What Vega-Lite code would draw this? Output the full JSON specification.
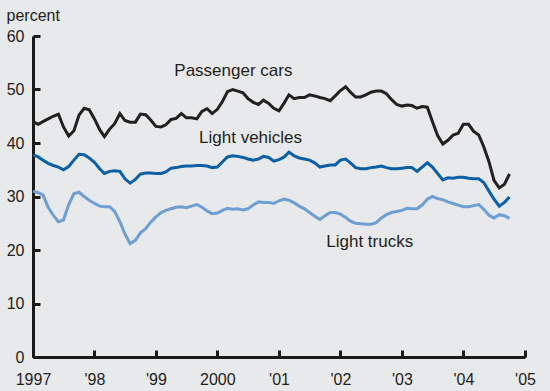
{
  "$schema": "https://vega.github.io/schema/vega-lite/v6.json",
  "width": 492,
  "height": 321,
  "autosize": {"type": "none"},
  "padding": {"left": 33, "top": 36, "right": 25, "bottom": 34},
  "background": "#e8e9eb",
  "config": {
    "view": {"stroke": null},
    "font": "Liberation Sans",
    "axis": {
      "grid": false,
      "domainColor": "#1a1a1a",
      "domainWidth": 3,
      "tickColor": "#1a1a1a",
      "tickWidth": 3,
      "tickSize": -7,
      "labelFont": "Liberation Sans",
      "labelFontSize": 16,
      "labelColor": "#231f20",
      "titleFont": "Liberation Sans",
      "titleColor": "#231f20"
    }
  },
  "data": {
    "values": [
      {"date": "1997-01-01", "c": 44.0, "v": 37.8, "t": 31.0},
      {"date": "1997-02-01", "c": 43.5, "v": 37.4, "t": 30.7},
      {"date": "1997-03-01", "c": 44.0, "v": 36.8, "t": 30.3},
      {"date": "1997-04-01", "c": 44.5, "v": 36.2, "t": 28.0},
      {"date": "1997-05-01", "c": 45.0, "v": 35.8, "t": 26.5},
      {"date": "1997-06-01", "c": 45.4, "v": 35.5, "t": 25.3},
      {"date": "1997-07-01", "c": 43.0, "v": 35.0, "t": 25.6},
      {"date": "1997-08-01", "c": 41.3, "v": 35.6, "t": 28.5},
      {"date": "1997-09-01", "c": 42.3, "v": 36.8, "t": 30.5},
      {"date": "1997-10-01", "c": 45.2, "v": 37.9, "t": 30.8},
      {"date": "1997-11-01", "c": 46.5, "v": 37.8, "t": 30.0},
      {"date": "1997-12-01", "c": 46.2, "v": 37.2, "t": 29.3},
      {"date": "1998-01-01", "c": 44.5, "v": 36.4, "t": 28.7},
      {"date": "1998-02-01", "c": 42.5, "v": 35.2, "t": 28.2},
      {"date": "1998-03-01", "c": 41.2, "v": 34.3, "t": 28.1},
      {"date": "1998-04-01", "c": 42.6, "v": 34.7, "t": 28.1},
      {"date": "1998-05-01", "c": 43.6, "v": 34.8, "t": 27.2},
      {"date": "1998-06-01", "c": 45.5, "v": 34.7, "t": 25.3},
      {"date": "1998-07-01", "c": 44.2, "v": 33.3, "t": 23.0},
      {"date": "1998-08-01", "c": 43.9, "v": 32.5, "t": 21.2},
      {"date": "1998-09-01", "c": 43.9, "v": 33.2, "t": 21.8},
      {"date": "1998-10-01", "c": 45.4, "v": 34.2, "t": 23.2},
      {"date": "1998-11-01", "c": 45.3, "v": 34.4, "t": 24.0},
      {"date": "1998-12-01", "c": 44.3, "v": 34.4, "t": 25.2},
      {"date": "1999-01-01", "c": 43.1, "v": 34.3, "t": 26.2},
      {"date": "1999-02-01", "c": 43.0, "v": 34.3, "t": 27.0},
      {"date": "1999-03-01", "c": 43.4, "v": 34.6, "t": 27.4},
      {"date": "1999-04-01", "c": 44.4, "v": 35.3, "t": 27.7},
      {"date": "1999-05-01", "c": 44.6, "v": 35.4, "t": 28.0},
      {"date": "1999-06-01", "c": 45.5, "v": 35.6, "t": 28.1},
      {"date": "1999-07-01", "c": 44.7, "v": 35.7, "t": 27.9},
      {"date": "1999-08-01", "c": 44.7, "v": 35.7, "t": 28.2},
      {"date": "1999-09-01", "c": 44.5, "v": 35.8, "t": 28.5},
      {"date": "1999-10-01", "c": 45.9, "v": 35.8, "t": 28.0},
      {"date": "1999-11-01", "c": 46.4, "v": 35.7, "t": 27.3},
      {"date": "1999-12-01", "c": 45.5, "v": 35.4, "t": 26.8},
      {"date": "2000-01-01", "c": 46.3, "v": 35.5, "t": 26.9},
      {"date": "2000-02-01", "c": 47.8, "v": 36.5, "t": 27.4},
      {"date": "2000-03-01", "c": 49.6, "v": 37.4, "t": 27.8},
      {"date": "2000-04-01", "c": 50.0, "v": 37.6, "t": 27.6},
      {"date": "2000-05-01", "c": 49.7, "v": 37.5, "t": 27.7},
      {"date": "2000-06-01", "c": 49.4, "v": 37.3, "t": 27.5},
      {"date": "2000-07-01", "c": 48.3, "v": 37.0, "t": 27.7},
      {"date": "2000-08-01", "c": 47.6, "v": 36.8, "t": 28.4},
      {"date": "2000-09-01", "c": 47.2, "v": 37.0, "t": 29.0},
      {"date": "2000-10-01", "c": 48.0, "v": 37.5, "t": 28.9},
      {"date": "2000-11-01", "c": 47.4, "v": 37.3, "t": 28.9},
      {"date": "2000-12-01", "c": 46.5, "v": 36.6, "t": 28.7},
      {"date": "2001-01-01", "c": 46.0, "v": 36.9, "t": 29.2},
      {"date": "2001-02-01", "c": 47.5, "v": 37.4, "t": 29.5},
      {"date": "2001-03-01", "c": 49.0, "v": 38.3, "t": 29.3},
      {"date": "2001-04-01", "c": 48.3, "v": 37.6, "t": 28.8},
      {"date": "2001-05-01", "c": 48.5, "v": 37.2, "t": 28.2},
      {"date": "2001-06-01", "c": 48.5, "v": 37.0, "t": 27.7},
      {"date": "2001-07-01", "c": 49.0, "v": 36.8, "t": 27.0},
      {"date": "2001-08-01", "c": 48.8, "v": 36.3, "t": 26.3},
      {"date": "2001-09-01", "c": 48.5, "v": 35.5, "t": 25.7},
      {"date": "2001-10-01", "c": 48.3, "v": 35.7, "t": 26.4},
      {"date": "2001-11-01", "c": 47.9, "v": 35.9, "t": 27.0},
      {"date": "2001-12-01", "c": 48.8, "v": 35.9, "t": 27.0},
      {"date": "2002-01-01", "c": 49.8, "v": 36.8, "t": 26.7},
      {"date": "2002-02-01", "c": 50.5, "v": 37.0, "t": 26.1},
      {"date": "2002-03-01", "c": 49.5, "v": 36.3, "t": 25.4},
      {"date": "2002-04-01", "c": 48.6, "v": 35.4, "t": 25.0},
      {"date": "2002-05-01", "c": 48.6, "v": 35.2, "t": 24.9},
      {"date": "2002-06-01", "c": 49.0, "v": 35.2, "t": 24.8},
      {"date": "2002-07-01", "c": 49.5, "v": 35.4, "t": 24.8},
      {"date": "2002-08-01", "c": 49.7, "v": 35.5, "t": 25.1},
      {"date": "2002-09-01", "c": 49.7, "v": 35.7, "t": 26.0},
      {"date": "2002-10-01", "c": 49.2, "v": 35.4, "t": 26.6},
      {"date": "2002-11-01", "c": 48.1, "v": 35.2, "t": 27.0},
      {"date": "2002-12-01", "c": 47.2, "v": 35.2, "t": 27.2},
      {"date": "2003-01-01", "c": 46.9, "v": 35.3, "t": 27.4},
      {"date": "2003-02-01", "c": 47.1, "v": 35.4, "t": 27.8},
      {"date": "2003-03-01", "c": 47.0, "v": 35.4, "t": 27.7},
      {"date": "2003-04-01", "c": 46.5, "v": 34.7, "t": 27.7},
      {"date": "2003-05-01", "c": 46.8, "v": 35.5, "t": 28.4},
      {"date": "2003-06-01", "c": 46.7, "v": 36.3, "t": 29.5},
      {"date": "2003-07-01", "c": 44.0, "v": 35.5, "t": 30.0},
      {"date": "2003-08-01", "c": 41.4, "v": 34.3, "t": 29.6},
      {"date": "2003-09-01", "c": 39.8, "v": 33.1, "t": 29.4},
      {"date": "2003-10-01", "c": 40.5, "v": 33.5, "t": 29.0},
      {"date": "2003-11-01", "c": 41.5, "v": 33.4, "t": 28.7},
      {"date": "2003-12-01", "c": 41.8, "v": 33.6, "t": 28.4},
      {"date": "2004-01-01", "c": 43.5, "v": 33.6, "t": 28.1},
      {"date": "2004-02-01", "c": 43.5, "v": 33.4, "t": 28.1},
      {"date": "2004-03-01", "c": 42.2, "v": 33.3, "t": 28.3},
      {"date": "2004-04-01", "c": 41.5, "v": 33.3, "t": 28.5},
      {"date": "2004-05-01", "c": 39.3, "v": 32.6, "t": 27.6},
      {"date": "2004-06-01", "c": 36.5, "v": 31.0, "t": 26.5},
      {"date": "2004-07-01", "c": 33.0, "v": 29.5, "t": 26.0},
      {"date": "2004-08-01", "c": 31.6, "v": 28.2, "t": 26.6},
      {"date": "2004-09-01", "c": 32.3, "v": 28.9, "t": 26.4},
      {"date": "2004-10-01", "c": 34.2, "v": 29.9, "t": 25.9}
    ]
  },
  "encoding": {
    "x": {
      "field": "date",
      "type": "temporal",
      "scale": {
        "type": "utc",
        "domain": [
          {"year": 1997, "month": 1, "date": 1, "utc": true},
          {"year": 2005, "month": 1, "date": 1, "utc": true}
        ]
      },
      "axis": {
        "title": null,
        "values": [
          {"year": 1997, "month": 1, "date": 1, "utc": true},
          {"year": 1998, "month": 1, "date": 1, "utc": true},
          {"year": 1999, "month": 1, "date": 1, "utc": true},
          {"year": 2000, "month": 1, "date": 1, "utc": true},
          {"year": 2001, "month": 1, "date": 1, "utc": true},
          {"year": 2002, "month": 1, "date": 1, "utc": true},
          {"year": 2003, "month": 1, "date": 1, "utc": true},
          {"year": 2004, "month": 1, "date": 1, "utc": true},
          {"year": 2005, "month": 1, "date": 1, "utc": true}
        ],
        "labelExpr": "(utcyear(datum.value) == 1997 || utcyear(datum.value) == 2000) ? utcFormat(datum.value, '%Y') : \"'\" + utcFormat(datum.value, '%y')",
        "labelPadding": 21,
        "labelFlush": false,
        "labelOverlap": false
      }
    }
  },
  "layer": [
    {
      "transform": [{"fold": ["c", "v", "t"], "as": ["series", "value"]}],
      "mark": {"type": "line", "strokeWidth": 3},
      "encoding": {
        "y": {
          "field": "value",
          "type": "quantitative",
          "scale": {"domain": [0, 60], "nice": false},
          "axis": {
            "values": [0, 10, 20, 30, 40, 50, 60],
            "title": "percent",
            "titleAngle": 0,
            "titleAlign": "left",
            "titleBaseline": "middle",
            "titleX": -27,
            "titleY": -21,
            "titleFontSize": 16,
            "titleFontWeight": "normal",
            "labelPadding": 16
          }
        },
        "color": {
          "field": "series",
          "type": "nominal",
          "scale": {"domain": ["c", "v", "t"], "range": ["#231f20", "#0b5fa5", "#6d9fd3"]},
          "legend": null
        },
        "order": {"field": "date", "type": "temporal"}
      }
    },
    {
      "data": {
        "values": [
          {"date": "2000-04-05", "value": 53.5, "label": "Passenger cars"},
          {"date": "2000-07-16", "value": 40.9, "label": "Light vehicles"},
          {"date": "2002-06-24", "value": 21.5, "label": "Light trucks"}
        ]
      },
      "mark": {"type": "text", "fontSize": 17, "color": "#231f20", "baseline": "middle", "align": "center", "font": "Liberation Sans"},
      "encoding": {
        "y": {
          "field": "value",
          "type": "quantitative",
          "axis": {
            "values": [0, 10, 20, 30, 40, 50, 60],
            "title": "percent",
            "titleAngle": 0,
            "titleAlign": "left",
            "titleBaseline": "middle",
            "titleX": -27,
            "titleY": -21,
            "titleFontSize": 16,
            "titleFontWeight": "normal",
            "labelPadding": 16
          }
        },
        "text": {"field": "label"}
      }
    }
  ]
}
